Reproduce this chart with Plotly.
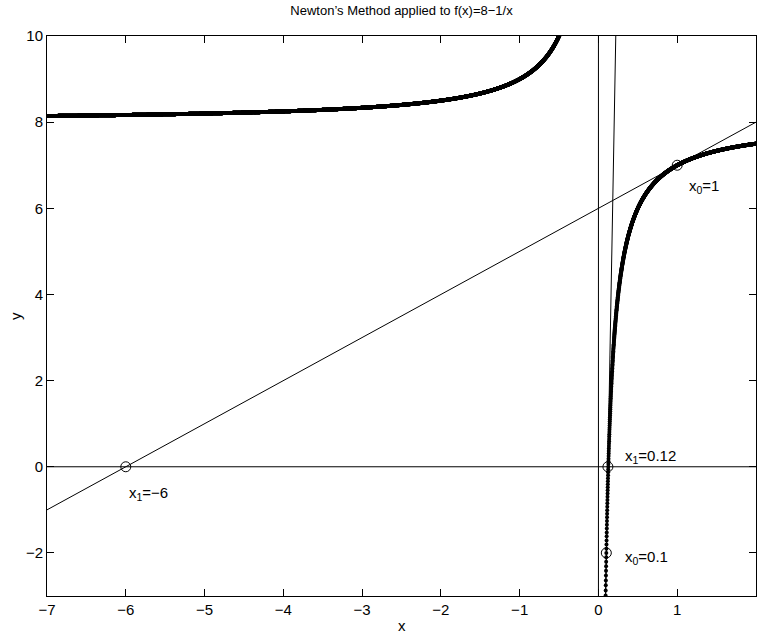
import numpy as np
import plotly.graph_objects as go

# Function being solved: f(x) = 8 - 1/x, f'(x) = 1/x^2
def f(x):
    return 8 - 1 / x

def fprime(x):
    return 1 / x ** 2

# Axis limits and ticks
x_range = [-7, 2]
y_range = [-3, 10]
x_ticks = [-7, -6, -5, -4, -3, -2, -1, 0, 1, 2]
y_ticks = [-2, 0, 2, 4, 6, 8, 10]

# Newton starting points and their first iterates
x0_values = [1.0, 0.1]
x1_values = [-6.0, 0.12]

# Label text and anchor positions (data coordinates)
label_texts = ["x<sub>0</sub>=1", "x<sub>1</sub>=−6", "x<sub>1</sub>=0.12", "x<sub>0</sub>=0.1"]
label_x = [1.13, -5.98, 0.31, 0.31]
label_y = [6.5, -0.62, 0.24, -2.1]

# Sample grids for the two branches of the curve
step = 0.001
x_neg = np.arange(-7.0, -0.45, step)
x_pos = np.arange(0.09, 2.0 + step / 2, step)

fig = go.Figure()

curve_style = dict(mode="lines+markers", line=dict(color="black", width=1),
                   marker=dict(color="black", size=4), showlegend=False,
                   hoverinfo="skip")
fig.add_trace(go.Scatter(x=x_neg, y=f(x_neg), **curve_style))
fig.add_trace(go.Scatter(x=x_pos, y=f(x_pos), **curve_style))

# Reference lines y=0 and x=0
thin = dict(color="black", width=1)
fig.add_trace(go.Scatter(x=x_range, y=[0, 0], mode="lines", line=thin, showlegend=False))
fig.add_trace(go.Scatter(x=[0, 0], y=y_range, mode="lines", line=thin, showlegend=False))

# Tangent lines at each starting point
for x0 in x0_values:
    m = fprime(x0)
    b = f(x0)
    # end points where the tangent leaves the axes box
    xa = max(x_range[0], x0 + (y_range[0] - b) / m)
    xb = min(x_range[1], x0 + (y_range[1] - b) / m)
    xs = np.array([xa, xb])
    fig.add_trace(go.Scatter(x=xs, y=b + m * (xs - x0), mode="lines", line=thin,
                             showlegend=False))

# Circles at the starting points and the iterates
pts_x = x0_values + x1_values
pts_y = [f(v) for v in x0_values] + [0.0 for _ in x1_values]
fig.add_trace(go.Scatter(x=pts_x, y=pts_y, mode="markers",
                         marker=dict(symbol="circle-open", size=10, color="black",
                                     line=dict(color="black", width=1)),
                         showlegend=False))

font_main = "Liberation Sans, Arial, Helvetica, sans-serif"

annotations = []
for t, lx, ly in zip(label_texts, label_x, label_y):
    annotations.append(dict(x=lx, y=ly, xref="x", yref="y", text=t, showarrow=False,
                            xanchor="left", yanchor="middle",
                            font=dict(size=15, color="black", family=font_main)))
annotations.append(dict(x=0.5, y=0, xref="paper", yref="paper", text="x", showarrow=False,
                        xanchor="center", yanchor="middle", yshift=-29,
                        font=dict(size=15, color="black", family=font_main)))
annotations.append(dict(x=0, y=0.5, xref="paper", yref="paper", text="y", showarrow=False,
                        xanchor="center", yanchor="middle", xshift=-32, textangle=-90,
                        font=dict(size=15, color="black", family=font_main)))

axis_common = dict(showgrid=False, zeroline=False, showline=True, linecolor="black",
                   linewidth=1, mirror="ticks", ticks="inside", ticklen=7,
                   tickcolor="black", tickwidth=1,
                   tickfont=dict(size=15, color="black", family=font_main))

fig.update_layout(
    width=757, height=633,
    margin=dict(l=47, r=1, t=36, b=37),
    paper_bgcolor="white", plot_bgcolor="white",
    title=dict(text="Newton’s Method applied to f(x)=8−1/x", x=0.5, xref="paper",
               xanchor="center", y=1 - 10 / 633, yref="container", yanchor="middle",
               font=dict(size=13, color="black", family=font_main)),
    xaxis=dict(range=x_range, tickvals=x_ticks, **axis_common),
    yaxis=dict(range=y_range, tickvals=y_ticks, **axis_common),
    annotations=annotations,
)

fig.write_html("out.html")
